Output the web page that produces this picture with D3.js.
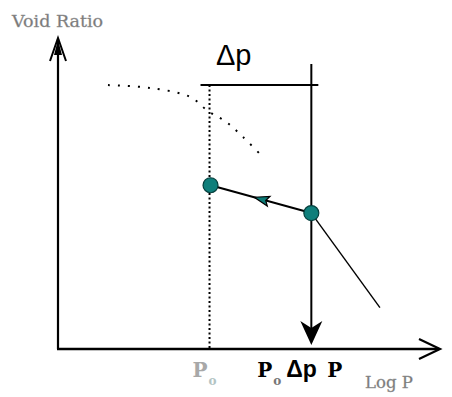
<!DOCTYPE html>
<html>
<head>
<meta charset="utf-8">
<script src="https://cdn.jsdelivr.net/npm/d3@7"></script>
<style>
  html, body { margin: 0; padding: 0; background: #fff; }
  svg { display: block; }
</style>
</head>
<body>
<svg id="chart" width="452" height="397"></svg>
<script>
// Pressures (log scale) and void ratios of the schematic
const preconsolidationCurveP = [2.48, 5.3, 11.0, 15.3, 21.2, 28.9, 41.5];
const preconsolidationCurveE = [0.854, 0.845, 0.816, 0.770, 0.735, 0.686, 0.621];
const loadP = [16, 100];          // p_o and p = p_o + Δp
const loadE = [0.53, 0.44];       // void ratio at p_o and p
const virginP = [100, 348];       // continuing compression line
const virginE = [0.44, 0.134];
const bracketE = 0.854;           // level of the Δp bracket
const arrowTopE = 0.922;          // top of the load arrow
const axisLabels = { y: "Void Ratio", x: "Log P" };

const svg = d3.select("#chart");
const x = d3.scaleLog().domain([1, 1000]).range([58, 438]);
const y = d3.scaleLinear().domain([0, 1]).range([349, 40]);

const x0 = x(1), y0 = y(0);

// Axes
svg.append("line").attr("x1", x0).attr("y1", y0).attr("x2", x0).attr("y2", 39)
  .attr("stroke", "#000").attr("stroke-width", 2.2);
svg.append("line").attr("x1", x0 - 1).attr("y1", y0).attr("x2", 439).attr("y2", y0)
  .attr("stroke", "#000").attr("stroke-width", 2.4);
// y-axis arrowhead
svg.append("path").attr("d", `M${x0 - 8},${61} L${x0},${38} L${x0 + 8},${61}`)
  .attr("fill", "none").attr("stroke", "#000").attr("stroke-width", 2);
svg.append("path").attr("d", `M${x0 - 4},${55} L${x0},${40} L${x0 + 4},${55} Z`)
  .attr("fill", "#000");
// x-axis arrowhead
svg.append("path").attr("d", `M${419},${y0 - 10} L${440},${y0} L${419},${y0 + 10}`)
  .attr("fill", "none").attr("stroke", "#000").attr("stroke-width", 2.2);

// Dotted preconsolidation curve
const line = d3.line().x(d => x(d[0])).y(d => y(d[1])).curve(d3.curveCatmullRom);
svg.append("path")
  .datum(d3.zip(preconsolidationCurveP, preconsolidationCurveE))
  .attr("d", line)
  .attr("fill", "none").attr("stroke", "#000").attr("stroke-width", 2)
  .attr("stroke-dasharray", "2,8");

// Dotted vertical at p_o
svg.append("line")
  .attr("x1", x(loadP[0]) - 1).attr("x2", x(loadP[0]) - 1)
  .attr("y1", y(bracketE)).attr("y2", y0)
  .attr("stroke", "#000").attr("stroke-width", 2).attr("stroke-dasharray", "2,2.5");

// Δp bracket
svg.append("line")
  .attr("x1", x(loadP[0]) - 10).attr("x2", x(loadP[1]) + 7)
  .attr("y1", y(bracketE)).attr("y2", y(bracketE))
  .attr("stroke", "#000").attr("stroke-width", 2);

// Load arrow at p
svg.append("line")
  .attr("x1", x(loadP[1])).attr("x2", x(loadP[1]))
  .attr("y1", y(arrowTopE)).attr("y2", y0 - 12)
  .attr("stroke", "#000").attr("stroke-width", 2);
const ax = x(loadP[1]);
svg.append("path")
  .attr("d", `M${ax - 11},${y0 - 28} L${ax},${y0 - 21} L${ax + 11},${y0 - 28} L${ax},${y0 - 4} Z`)
  .attr("fill", "#000");

// Compression continuing past p
svg.append("line")
  .attr("x1", x(virginP[0])).attr("y1", y(virginE[0]))
  .attr("x2", x(virginP[1])).attr("y2", y(virginE[1]))
  .attr("stroke", "#000").attr("stroke-width", 1.4);

// Rebound path from p back to p_o
const ptA = [x(loadP[0]), y(loadE[0])];
const ptB = [x(loadP[1]), y(loadE[1])];
svg.append("line")
  .attr("x1", ptB[0]).attr("y1", ptB[1]).attr("x2", ptA[0]).attr("y2", ptA[1])
  .attr("stroke", "#000").attr("stroke-width", 2);

// Direction arrow on the rebound path
const ang = Math.atan2(ptA[1] - ptB[1], ptA[0] - ptB[0]);
const mid = [ptB[0] + (ptA[0] - ptB[0]) * 0.5, ptB[1] + (ptA[1] - ptB[1]) * 0.5];
svg.append("path")
  .attr("d", "M-7,0 L8,-5 L5,0 L8,5 Z")
  .attr("transform", `translate(${mid[0]},${mid[1]}) rotate(${ang * 180 / Math.PI + 180})`)
  .attr("fill", "#0b7a76").attr("stroke", "#000").attr("stroke-width", 1.2);

// State points
svg.selectAll("circle.state")
  .data(d3.zip(loadP, loadE))
  .join("circle")
  .attr("class", "state")
  .attr("cx", d => x(d[0])).attr("cy", d => y(d[1]))
  .attr("r", 7.5)
  .attr("fill", "#0f7f7b").attr("stroke", "#063f3d").attr("stroke-width", 1.2);

// Text
const serif = "DejaVu Serif, serif";
svg.append("text").attr("x", 12).attr("y", 27)
  .attr("font-family", serif).attr("font-size", 17.5)
  .attr("fill", "#777").attr("stroke", "#999").attr("stroke-width", 0.35)
  .text(axisLabels.y);

svg.append("text").attr("x", 216).attr("y", 65)
  .attr("font-family", "Liberation Sans, Arial, sans-serif").attr("font-size", 29)
  .attr("fill", "#000").text("Δp");

const g0 = svg.append("text").attr("y", 377)
  .attr("font-family", serif).attr("font-size", 20).attr("font-weight", "bold").attr("fill", "#a8a8a8");
g0.append("tspan").attr("x", x(loadP[0]) - 18).text("P");
g0.append("tspan").attr("x", x(loadP[0]) - 2).attr("y", 385).attr("font-size", 12).attr("fill", "#b3c4c4").text("o");

const px = x(loadP[1]);
const g1 = svg.append("text").attr("y", 377)
  .attr("font-family", serif).attr("font-size", 20).attr("font-weight", "bold").attr("fill", "#000");
g1.append("tspan").attr("x", px - 54).text("P");
g1.append("tspan").attr("x", px - 38).attr("y", 385).attr("font-size", 12).attr("fill", "#777").text("o");
g1.append("tspan").attr("x", px - 25).attr("y", 377)
  .attr("font-family", "Liberation Sans, sans-serif").attr("font-size", 23).text("Δp");
g1.append("tspan").attr("x", px + 16).text("P");

svg.append("text").attr("x", 365).attr("y", 388)
  .attr("font-family", serif).attr("font-size", 16.5)
  .attr("fill", "#777").attr("stroke", "#999").attr("stroke-width", 0.35)
  .text(axisLabels.x);
</script>
</body>
</html>
